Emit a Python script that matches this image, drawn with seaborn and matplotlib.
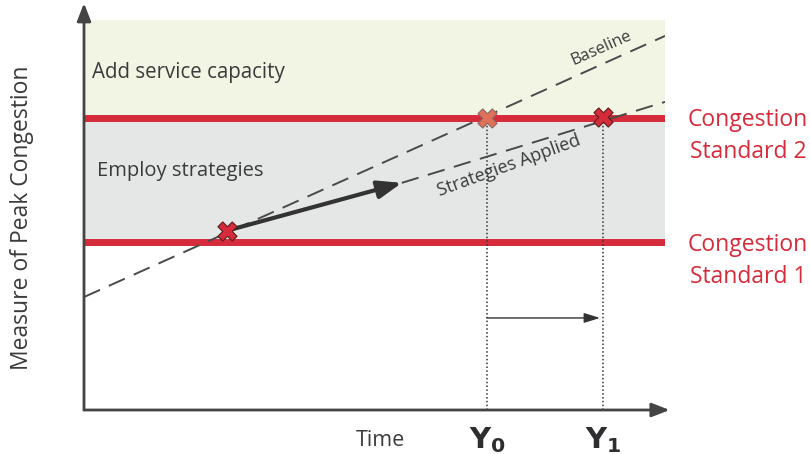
import numpy as np
import pandas as pd
import matplotlib
matplotlib.use("Agg")
import matplotlib.pyplot as plt
import seaborn as sns

# ------------------------------------------------------------
# Conceptual diagram: congestion standards vs time
# (time and congestion are on a 0-100 schematic scale)
# ------------------------------------------------------------

standard_levels = [42.5, 73.9]          # Congestion Standard 1, 2
band_top = 98.7                          # top of "Add service capacity" zone

baseline_t = [0, 100]
baseline_c = [28.6, 94.7]

start_point = (24.6, 45.4)              # where strategies begin
arrow_tip = (54.7, 57.5)
strategies_t = [54.7, 100]
strategies_c = [57.5, 78.0]

cross_t = [24.6, 69.4, 89.3]
cross_c = [45.4, 73.9, 74.2]

y0_t, y1_t = 69.4, 89.3
shift_level = 23.3

red = "#d52b3a"
txt = "#3b3b3d"
dash_col = "#4a4a4a"

sns.set_theme(style="white")
plt.rcParams["font.family"] = ["Open Sans", "DejaVu Sans"]

fig = plt.figure(figsize=(8.1, 4.54), dpi=100)
ax = fig.add_axes([84 / 810, 44 / 454, 581 / 810, 395 / 454])
ax.set_xlim(0, 100)
ax.set_ylim(0, 100)
ax.axis("off")

# zones
ax.fill_between([0, 100], standard_levels[1], band_top, color="#f3f5e4", lw=0)
ax.fill_between([0, 100], standard_levels[0], standard_levels[1], color="#e5e6e6", lw=0)
for lvl in standard_levels:
    ax.axhline(lvl, color=red, lw=5, zorder=2)

# trend lines
lines = pd.DataFrame({"t": baseline_t, "c": baseline_c})
sns.lineplot(data=lines, x="t", y="c", ax=ax, color=dash_col, lw=1.4,
             linestyle=(0, (9, 5)), zorder=3)
strat = pd.DataFrame({"t": strategies_t, "c": strategies_c})
sns.lineplot(data=strat, x="t", y="c", ax=ax, color=dash_col, lw=1.4,
             linestyle=(0, (9, 5)), zorder=3)

ax.annotate("", xy=arrow_tip, xytext=start_point,
            arrowprops=dict(arrowstyle="-|>,head_length=1.2,head_width=0.45",
                            color="#333333", lw=3, shrinkA=0, shrinkB=0), zorder=4)

# dotted drop lines
for t in [y0_t, y1_t]:
    ax.plot([t, t], [0, standard_levels[1]], color="#333333", lw=1.1,
            linestyle=(0, (1, 1.5)), zorder=2)

ax.annotate("", xy=(y1_t - 0.5, shift_level), xytext=(y0_t, shift_level),
            arrowprops=dict(arrowstyle="-|>,head_length=0.8,head_width=0.25",
                            color="#333333", lw=1, shrinkA=0, shrinkB=0))

# crossing markers
pts = pd.DataFrame({"t": cross_t, "c": cross_c})
sns.scatterplot(data=pts.iloc[[0, 2]], x="t", y="c", ax=ax, marker="X", s=190,
                color=red, edgecolor="#5a2020", linewidth=0.8, zorder=5)
sns.scatterplot(data=pts.iloc[[1]], x="t", y="c", ax=ax, marker="X", s=190,
                color="#e0705a", edgecolor="#8a6a60", linewidth=0.8, zorder=5)

# axes with arrow heads
ax.annotate("", xy=(0, 1.03), xytext=(0, 0), xycoords="axes fraction",
            arrowprops=dict(arrowstyle="-|>,head_length=0.9,head_width=0.35",
                            color="#444444", lw=2, shrinkA=0, shrinkB=0),
            annotation_clip=False)
ax.annotate("", xy=(1.008, 0), xytext=(0, 0), xycoords="axes fraction",
            arrowprops=dict(arrowstyle="-|>,head_length=0.9,head_width=0.35",
                            color="#444444", lw=2, shrinkA=0, shrinkB=0),
            annotation_clip=False)

# text
ax.text(1.3, 85.5, "Add service capacity", fontsize=14.8, color=txt, va="center")
ax.text(2.2, 60.5, "Employ strategies", fontsize=14.5, color=txt, va="center")
ax.text(89, 91.5, "Baseline", fontsize=12, color=txt, rotation=24,
        ha="center", va="center")
ax.text(73.2, 61.8, "Strategies Applied", fontsize=13, color=txt, rotation=20,
        ha="center", va="center")

fig.text(748 / 810, 1 - 136 / 454, "Congestion\nStandard 2", fontsize=16.5,
         color=red, ha="center", va="center", linespacing=1.45)
fig.text(748 / 810, 1 - 261 / 454, "Congestion\nStandard 1", fontsize=16.5,
         color=red, ha="center", va="center", linespacing=1.45)

fig.text(22 / 810, 1 - 218 / 454, "Measure of Peak Congestion", fontsize=16.5,
         color=txt, rotation=90, ha="center", va="center")
fig.text(380 / 810, 1 - 440 / 454, "Time", fontsize=15.5, color=txt,
         ha="center", va="center")
fig.text(487 / 810, 1 - 440 / 454, r"$\mathbf{Y_0}$", fontsize=21, color="#2e2e30",
         ha="center", va="center")
fig.text(603 / 810, 1 - 440 / 454, r"$\mathbf{Y_1}$", fontsize=21, color="#2e2e30",
         ha="center", va="center")

fig.savefig("out.png", dpi=100)
